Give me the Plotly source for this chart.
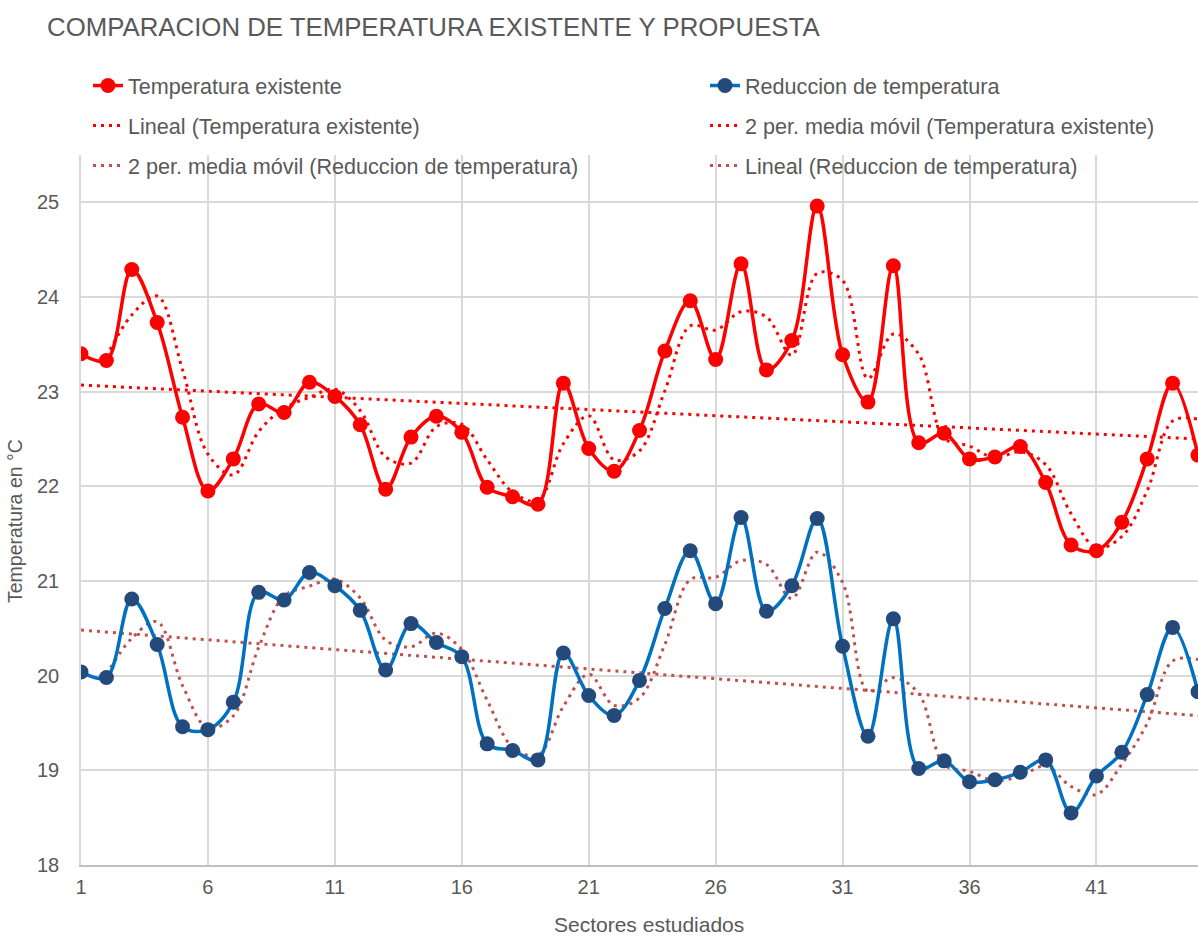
import numpy as np
import plotly.graph_objects as go

sectores = list(range(1, 46))
temp_existente = [23.40, 23.33, 24.29, 23.73, 22.73, 21.95, 22.29, 22.87, 22.78, 23.10,
                  22.95, 22.65, 21.97, 22.52, 22.74, 22.57, 21.99, 21.89, 21.81, 23.09,
                  22.40, 22.16, 22.59, 23.43, 23.96, 23.34, 24.35, 23.23, 23.54, 24.96,
                  23.39, 22.89, 24.33, 22.46, 22.56, 22.29, 22.31, 22.42, 22.04, 21.38,
                  21.32, 21.62, 22.29, 23.09, 22.33]
temp_reducida = [20.04, 19.98, 20.81, 20.33, 19.46, 19.43, 19.72, 20.88, 20.80, 21.09,
                 20.95, 20.69, 20.06, 20.55, 20.35, 20.20, 19.28, 19.21, 19.11, 20.24,
                 19.79, 19.58, 19.95, 20.71, 21.32, 20.76, 21.67, 20.68, 20.95, 21.66,
                 20.31, 19.36, 20.60, 19.02, 19.10, 18.88, 18.90, 18.98, 19.11, 18.55,
                 18.94, 19.19, 19.80, 20.51, 19.83]
x_ticks = [1, 6, 11, 16, 21, 26, 31, 36, 41]
y_ticks = [18, 19, 20, 21, 22, 23, 24, 25]

W, H = 1198, 937
RED = "#FF0000"
BLUE = "#0070C0"
BLUE_MK = "#234A7B"
TREND2 = "#C0504D"
GRAY_TXT = "#595959"
FONT = "Liberation Sans, Arial, sans-serif"

x = np.array(sectores, dtype=float)
te = np.array(temp_existente)
tr = np.array(temp_reducida)

def moving_avg(v):
    return (v[1:] + v[:-1]) / 2.0

def linear(v):
    m, b = np.polyfit(x, v, 1)
    return m * x + b

fig = go.Figure()

dot = "3px,5px"

fig.add_trace(go.Scatter(
    x=x, y=linear(te), mode="lines", name="Lineal (Temperatura existente)",
    line=dict(color=RED, width=3, dash=dot), legend="legend3"))
fig.add_trace(go.Scatter(
    x=x[1:], y=moving_avg(te), mode="lines", name="2 per. media móvil (Temperatura existente)",
    line=dict(color=RED, width=3, dash=dot, shape="spline", smoothing=1), legend="legend4"))
fig.add_trace(go.Scatter(
    x=x[1:], y=moving_avg(tr), mode="lines", name="2 per. media móvil (Reduccion de temperatura)",
    line=dict(color=TREND2, width=3, dash=dot, shape="spline", smoothing=1), legend="legend5"))
fig.add_trace(go.Scatter(
    x=x, y=linear(tr), mode="lines", name="Lineal (Reduccion de temperatura)",
    line=dict(color=TREND2, width=3, dash=dot), legend="legend6"))
fig.add_trace(go.Scatter(
    x=x, y=te, mode="lines+markers", name="Temperatura existente",
    line=dict(color=RED, width=3.5, shape="spline", smoothing=1),
    marker=dict(color=RED, size=15), legend="legend"))
fig.add_trace(go.Scatter(
    x=x, y=tr, mode="lines+markers", name="Reduccion de temperatura",
    line=dict(color=BLUE, width=3.5, shape="spline", smoothing=1),
    marker=dict(color=BLUE_MK, size=15), legend="legend2"))

def leg(px, py):
    return dict(xref="container", yref="container", x=px / W, y=1 - py / H,
                xanchor="left", yanchor="middle", bgcolor="rgba(0,0,0,0)",
                font=dict(family=FONT, size=21.6, color=GRAY_TXT), itemwidth=30)

fig.update_layout(
    width=W, height=H,
    margin=dict(l=81, r=0, t=155, b=72, autoexpand=False),
    paper_bgcolor="white", plot_bgcolor="white",
    font=dict(family=FONT, color=GRAY_TXT),
    title=dict(text="COMPARACION DE TEMPERATURA EXISTENTE Y PROPUESTA",
               xref="container", yref="container", x=47 / W, y=1 - 27 / H,
               xanchor="left", yanchor="middle",
               font=dict(family=FONT, size=25.8, color=GRAY_TXT)),
    legend=leg(88, 86),
    legend2=leg(705, 86),
    legend3=leg(88, 126),
    legend4=leg(705, 126),
    legend5=leg(88, 166),
    legend6=leg(705, 166),
    showlegend=True,
    annotations=[
        dict(text="Sectores estudiados", xref="paper", yref="paper",
             x=(649 - 81) / 1117, y=-(925 - 865) / 710, xanchor="center", yanchor="middle",
             showarrow=False, font=dict(family=FONT, size=21, color=GRAY_TXT)),
        dict(text="Temperatura en °C", xref="paper", yref="paper",
             x=(15 - 81) / 1117, y=(865 - 521) / 710, xanchor="center", yanchor="middle",
             textangle=-90, showarrow=False,
             font=dict(family=FONT, size=19.5, color=GRAY_TXT)),
    ],
)

fig.update_xaxes(
    range=[1, 45], tickvals=x_ticks, ticktext=[str(v) for v in x_ticks],
    showgrid=True, gridcolor="#D9D9D9", gridwidth=1.5,
    showline=True, linecolor="#BFBFBF", linewidth=1.5,
    ticks="", ticklabelstandoff=3, zeroline=False,
    tickfont=dict(family=FONT, size=20, color=GRAY_TXT))
fig.update_yaxes(
    range=[18, 25.5], tickvals=y_ticks, ticktext=[str(v) for v in y_ticks],
    showgrid=True, gridcolor="#D9D9D9", gridwidth=1.5,
    showline=True, linecolor="#D9D9D9", linewidth=1.5,
    ticks="", ticklabelstandoff=16, zeroline=False,
    tickfont=dict(family=FONT, size=20, color=GRAY_TXT))

fig.write_html(
    "out.html",
    config={"displayModeBar": False},
    post_script="document.body.style.margin='0';document.body.style.overflow='hidden';",
)
